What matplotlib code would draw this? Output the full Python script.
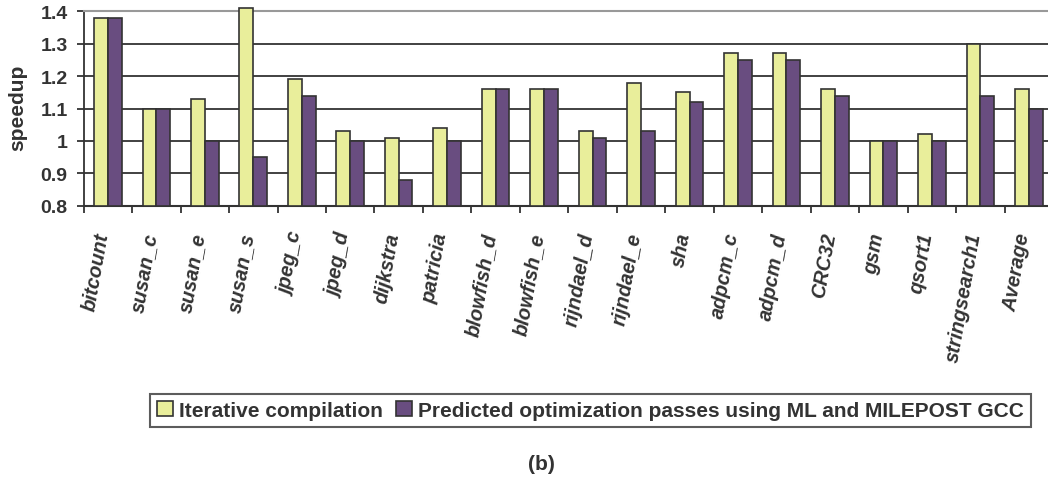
import numpy as np
import matplotlib
matplotlib.use("Agg")
import matplotlib.pyplot as plt
import matplotlib.transforms as mtransforms

benchmarks = ["bitcount", "susan_c", "susan_e", "susan_s", "jpeg_c", "jpeg_d",
              "dijkstra", "patricia", "blowfish_d", "blowfish_e", "rijndael_d",
              "rijndael_e", "sha", "adpcm_c", "adpcm_d", "CRC32", "gsm", "qsort1",
              "stringsearch1", "Average"]
iterative = [1.38, 1.10, 1.13, 1.41, 1.19, 1.03, 1.01, 1.04, 1.16, 1.16,
             1.03, 1.18, 1.15, 1.27, 1.27, 1.16, 1.00, 1.02, 1.30, 1.16]
predicted = [1.38, 1.10, 1.00, 0.95, 1.14, 1.00, 0.88, 1.00, 1.16, 1.16,
             1.01, 1.03, 1.12, 1.25, 1.25, 1.14, 1.00, 1.00, 1.14, 1.10]
yticks = [0.8, 0.9, 1.0, 1.1, 1.2, 1.3, 1.4]
ytick_labels = ["0.8", "0.9", "1", "1.1", "1.2", "1.3", "1.4"]
base = 0.8

plt.rcParams["font.family"] = ["Liberation Sans", "DejaVu Sans"]
dark = "#333333"
yellow = "#E9EE9B"
purple = "#694D80"

fig = plt.figure(figsize=(10.48, 4.85), dpi=100)
ax = fig.add_axes([0.0798, 0.5738, 0.925, 0.4008])

x = np.arange(len(benchmarks))
w = 0.285
ax.bar(x - w / 2, np.array(iterative) - base, w, bottom=base, color=yellow,
       edgecolor=dark, linewidth=1.2, label="Iterative compilation",
       zorder=3, clip_on=False)
ax.bar(x + w / 2, np.array(predicted) - base, w, bottom=base, color=purple,
       edgecolor=dark, linewidth=1.2,
       label="Predicted optimization passes using ML and MILEPOST GCC",
       zorder=3, clip_on=False)

ax.set_ylim(0.8, 1.4)
ax.set_xlim(-0.5, 19.5)
ax.set_yticks(yticks)
ax.set_yticklabels(ytick_labels, fontsize=14, fontweight="bold", color=dark)
for yv in yticks[1:-1]:
    ax.axhline(yv, color=dark, linewidth=1.3, zorder=1)

ax.set_xticks(x)
ax.set_xticklabels(benchmarks, rotation=80, ha="right", va="top",
                   fontsize=14.4, fontweight="bold", fontstyle="italic", color=dark)
ax.set_xticks(np.arange(-0.5, 20, 1), minor=True)
ax.tick_params(axis="x", which="major", length=0, pad=18)
ax.tick_params(axis="x", which="minor", length=5, width=1.3, color=dark, direction="out")
ax.tick_params(axis="y", length=5, width=1.3, color=dark, direction="out", pad=6.5)

offset = mtransforms.ScaledTranslation(0.04, 0, fig.dpi_scale_trans)
for lab in ax.get_xticklabels():
    lab.set_transform(lab.get_transform() + offset)

ax.spines["right"].set_visible(False)
ax.spines["top"].set_color("#999999")
ax.spines["top"].set_linewidth(1.5)
ax.spines["left"].set_color(dark)
ax.spines["left"].set_linewidth(1.3)
ax.spines["bottom"].set_color(dark)
ax.spines["bottom"].set_linewidth(1.5)

fig.text(17.5 / 1048, 1 - 108 / 485, "speedup", rotation=90, ha="center", va="center",
         fontsize=15, fontweight="bold", color=dark)

leg = fig.legend(loc="center", bbox_to_anchor=(0.5635, 0.1515), ncol=2,
                 prop={"size": 15, "weight": "bold"}, frameon=True, fancybox=False,
                 edgecolor=dark, handlelength=0.75, handleheight=0.7,
                 handletextpad=0.3, columnspacing=0.65, borderpad=0.35,
                 borderaxespad=0)
leg.get_frame().set_linewidth(1.5)
for t in leg.get_texts():
    t.set_color(dark)

fig.text(541 / 1048, 1 - 465 / 485, "(b)", ha="center", va="center",
         fontsize=15, fontweight="bold", color=dark)

fig.savefig("out.png", dpi=100)
